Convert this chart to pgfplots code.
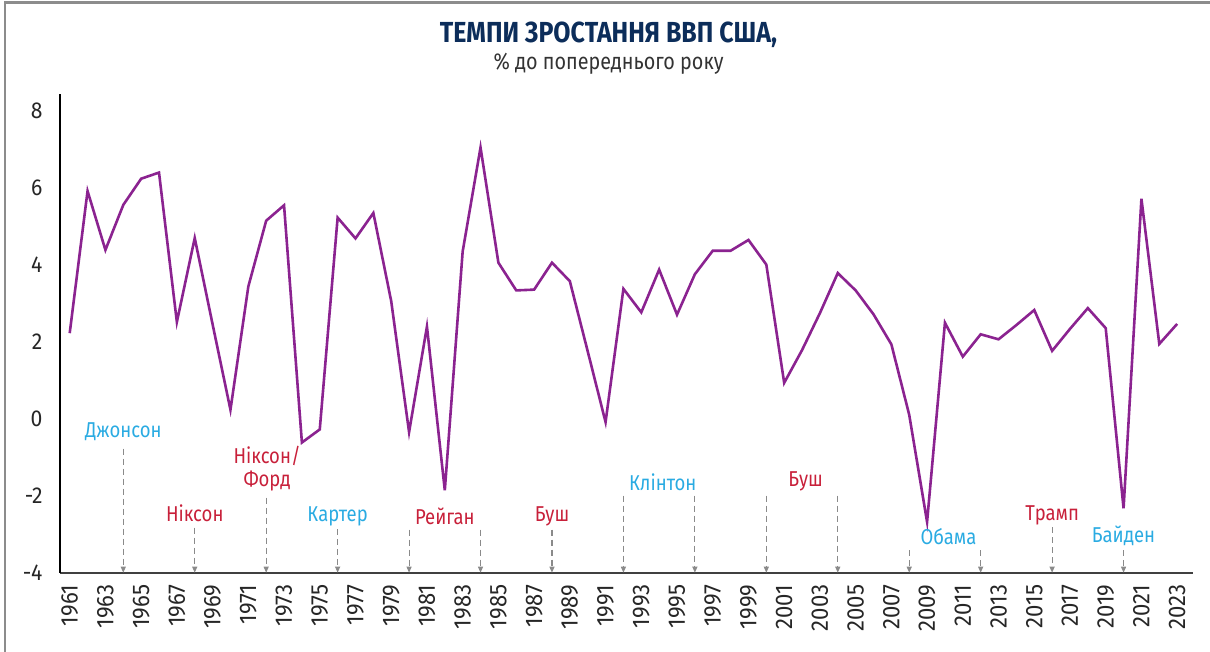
\documentclass[border=0pt]{standalone}
\usepackage{fontspec}
\setmainfont{Fira Sans}[FakeStretch=0.86]
\newfontfamily\tickfont{Fira Sans}[FakeStretch=0.92]
\usepackage{pgfplots}
\pgfplotsset{compat=1.18}
\usetikzlibrary{arrows.meta}
\definecolor{linepurple}{HTML}{8B2390}
\definecolor{tblue}{HTML}{2AABE2}
\definecolor{tred}{HTML}{C8203A}
\definecolor{tnavy}{HTML}{0C2D5A}
\definecolor{bordergray}{HTML}{8C8C8C}
\definecolor{arrgray}{HTML}{8A8A8A}

\pgfplotstableread{
year value
1961 2.22
1962 5.91
1963 4.38
1964 5.55
1965 6.23
1966 6.39
1967 2.51
1968 4.69
1969 2.45
1970 0.23
1971 3.43
1972 5.14
1973 5.54
1974 -0.62
1975 -0.28
1976 5.22
1977 4.68
1978 5.34
1979 3.05
1980 -0.35
1981 2.39
1982 -1.86
1983 4.34
1984 7.04
1985 4.05
1986 3.33
1987 3.35
1988 4.05
1989 3.57
1990 1.75
1991 -0.09
1992 3.37
1993 2.76
1994 3.87
1995 2.70
1996 3.75
1997 4.36
1998 4.36
1999 4.64
2000 4.00
2001 0.93
2002 1.78
2003 2.74
2004 3.78
2005 3.33
2006 2.71
2007 1.93
2008 0.10
2009 -2.68
2010 2.49
2011 1.61
2012 2.19
2013 2.06
2014 2.43
2015 2.82
2016 1.76
2017 2.33
2018 2.87
2019 2.35
2020 -2.33
2021 5.71
2022 1.94
2023 2.46
}\gdp

\begin{document}
\begin{tikzpicture}[x=1pt,y=1pt,
  arr/.style={draw=arrgray, line width=1.1pt, dash pattern=on 6pt off 4pt, -{Triangle[length=6pt,width=5pt]}},
  lbl/.style={font=\fontsize{21.5}{23}\selectfont, align=center}]
\useasboundingbox (0,0) rectangle (1210,652);
\draw[bordergray, line width=2.5pt] (5,0) -- (5,649.5) -- (1210,649.5);
\node[font=\fontsize{29}{32}\selectfont\bfseries, text=tnavy] at (608.5,617) {ТЕМПИ ЗРОСТАННЯ ВВП США,};
\node[font=\fontsize{23}{26}\selectfont, text=black!80] at (608.5,588) {\% до попереднього року};
\begin{axis}[
  at={(60pt,79.3pt)}, anchor=south west,
  scale only axis, width=1133pt, height=478.7pt,
  xmin=1960.457, xmax=2023.89, ymin=-4, ymax=8.43,
  axis x line*=bottom, axis y line*=left,
  x axis line style={-, draw=black!75, line width=1.8pt},
  y axis line style={-, draw=black, line width=1.2pt},
  xtick={1961,1963,...,2023},
  xticklabels={1961,1963,1965,1967,1969,1971,1973,1975,1977,1979,1981,1983,1985,1987,1989,1991,1993,1995,1997,1999,2001,2003,2005,2007,2009,2011,2013,2015,2017,2019,2021,2023},
  ytick={-4,-2,0,2,4,6,8},
  yticklabels={-4,-2,0,2,4,6,8},
  major tick length=0pt,
  tick style={draw=none},
  xticklabel style={rotate=90, anchor=east, font=\tickfont\fontsize{24}{25}\selectfont, text=black!85},
  yticklabel style={font=\tickfont\fontsize{23}{24}\selectfont, text=black!85},
  xticklabel shift=8.5pt,
  yticklabel shift=14pt,
  clip=false,
]
\addplot[linepurple, line width=2.6pt, line join=miter, no marks] table[x=year, y=value] {\gdp};

% arrows
\draw[arr] (axis cs:1964,-0.78) -- (axis cs:1964,-4);
\draw[arr] (axis cs:1968,-2.83) -- (axis cs:1968,-4);
\draw[arr] (axis cs:1972,-2.05) -- (axis cs:1972,-4);
\draw[arr] (axis cs:1976,-2.87) -- (axis cs:1976,-4);
\draw[arr] (axis cs:1980,-2.88) -- (axis cs:1980,-4);
\draw[arr] (axis cs:1984,-2.88) -- (axis cs:1984,-4);
\draw[arr] (axis cs:1988,-2.88) -- (axis cs:1988,-4);
\draw[arr] (axis cs:1992,-2.0) -- (axis cs:1992,-4);
\draw[arr] (axis cs:1996,-2.0) -- (axis cs:1996,-4);
\draw[arr] (axis cs:2000,-2.0) -- (axis cs:2000,-4);
\draw[arr] (axis cs:2004,-2.0) -- (axis cs:2004,-4);
\draw[arr] (axis cs:2008,-3.42) -- (axis cs:2008,-4);
\draw[arr] (axis cs:2012,-3.42) -- (axis cs:2012,-4);
\draw[arr] (axis cs:2016,-2.82) -- (axis cs:2016,-4);
\draw[arr] (axis cs:2020,-3.42) -- (axis cs:2020,-4);

% labels
\node[lbl, text=tblue] at (axis cs:1964,-0.35) {Джонсон};
\node[lbl, text=tred] at (axis cs:1968,-2.45) {Ніксон};
\node[lbl, text=tred] at (axis cs:1972.05,-1.3) {Ніксон/\\Форд};
\node[lbl, text=tblue] at (axis cs:1976,-2.53) {Картер};
\node[lbl, text=tred] at (axis cs:1982,-2.53) {Рейган};
\node[lbl, text=tred] at (axis cs:1988,-2.53) {Буш};
\node[lbl, text=tblue] at (axis cs:1994.2,-1.64) {Клінтон};
\node[lbl, text=tred] at (axis cs:2002.2,-1.64) {Буш};
\node[lbl, text=tblue] at (axis cs:2010.2,-3.05) {Обама};
\node[lbl, text=tred] at (axis cs:2016,-2.5) {Трамп};
\node[lbl, text=tblue] at (axis cs:2020,-3.05) {Байден};
\end{axis}
\end{tikzpicture}
\end{document}
